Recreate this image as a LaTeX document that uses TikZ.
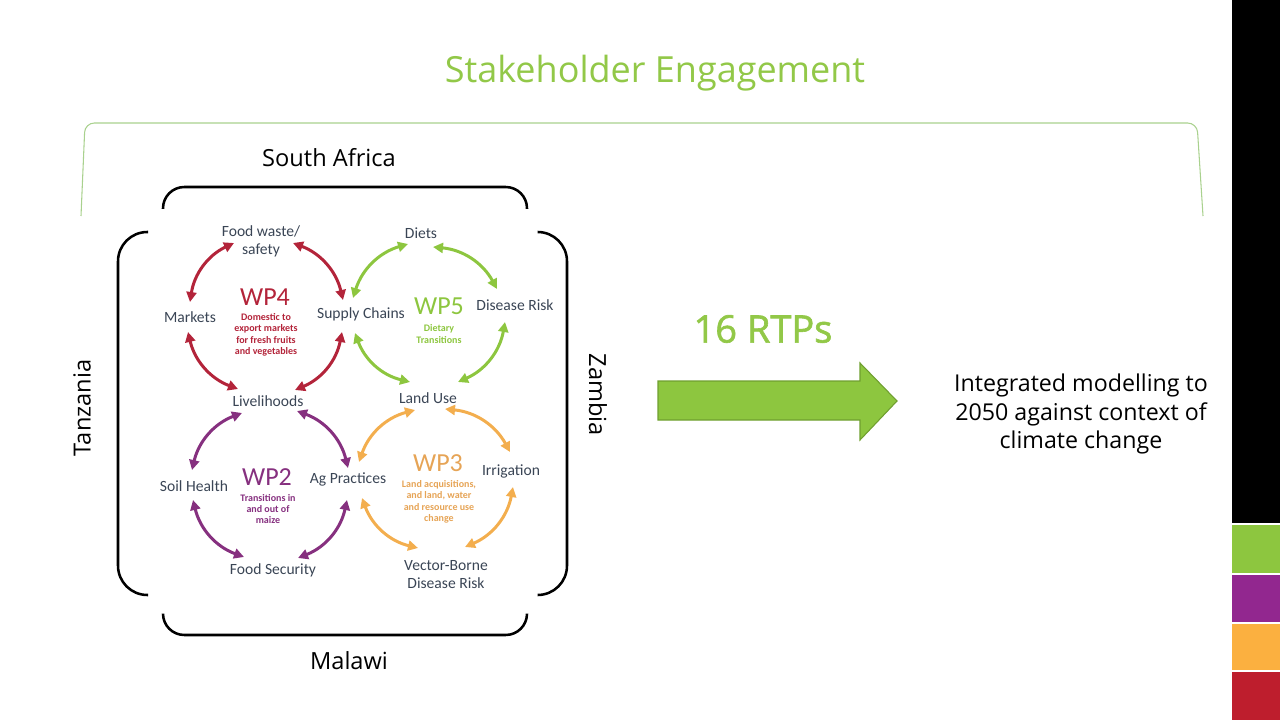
\documentclass[tikz,border=0pt]{standalone}
\usepackage{fontspec}
\setmainfont{Carlito}
\newfontfamily\seg{Open Sans}
\newfontfamily\segb[FakeBold=1.6]{Open Sans}
\usetikzlibrary{arrows.meta}
\definecolor{wpred}{HTML}{B3243A}
\definecolor{wpgreen}{HTML}{8DC63F}
\definecolor{wppurple}{HTML}{86307F}
\definecolor{wporange}{HTML}{F3AE4E}
\definecolor{wporangetxt}{HTML}{E6A456}
\definecolor{labgray}{HTML}{3A4555}
\definecolor{barg}{HTML}{8DC63F}
\definecolor{barp}{HTML}{92278F}
\definecolor{baro}{HTML}{FBB040}
\definecolor{barr}{HTML}{BE1E2D}
\definecolor{bracegreen}{HTML}{A9D18E}
\definecolor{titlegreen}{HTML}{92C848}
\definecolor{arrowedge}{HTML}{6F9F2F}
\tikzset{
  lab/.style={text=labgray, font=\fontsize{11.7}{13.5}\selectfont, align=center, inner sep=0pt},
  wptitle/.style={font=\fontsize{19.5}{22}\selectfont, inner sep=0pt},
  wpsub/.style={font=\bfseries\fontsize{7.5}{8.6}\selectfont, align=center, inner sep=0pt},
  country/.style={font=\seg\fontsize{17.7}{20}\selectfont, inner sep=0pt},
  cyc/.style={line width=2.25pt, {Triangle[length=7.5pt,width=7.5pt]}-{Triangle[length=7.5pt,width=7.5pt]}, bend left=28},
  bracket/.style={line width=1.9pt, black, rounded corners=16pt},
}
\begin{document}
\begin{tikzpicture}[x=0.75pt,y=-0.75pt]
\useasboundingbox (0,0) rectangle (1280,720);

% right colour bar
\fill[black] (1232,0) rectangle (1280,523);
\fill[barg] (1232,525) rectangle (1280,573);
\fill[barp] (1232,575) rectangle (1280,622);
\fill[baro] (1232,624) rectangle (1280,670);
\fill[barr] (1232,672) rectangle (1280,720);

% title and brace
\node[font=\seg\fontsize{27}{30}\selectfont, text=titlegreen, inner sep=0pt] (title) at (655,73) {Stakeholder Engagement};
\draw[bracegreen, line width=0.8pt, rounded corners=7pt] (81,216) -- (85,123) -- (1197,123) -- (1203,216);

% country labels
\node[country] (sa) at (329,158) {South Africa};
\node[country] (mw) at (349,661) {Malawi};
\node[country, rotate=90] (tz) at (82,408) {Tanzania};
\node[country, rotate=-90] (zm) at (598,395) {Zambia};

% black brackets
\draw[bracket] (163,209) -- (163,187) -- (527,187) -- (527,209);
\draw[bracket] (163,614) -- (163,635) -- (527,635) -- (527,614);
\draw[bracket, rounded corners=22pt] (148,232) -- (118,232) -- (118,595) -- (148,595);
\draw[bracket, rounded corners=22pt] (538,232) -- (567,232) -- (567,595) -- (538,595);

% labels
\node[lab] (food) at (261,241) {Food waste/\\safety};
\node[lab] (markets) at (190,317) {Markets};
\node[lab] (supply) at (361,314) {Supply Chains};
\node[lab] (liveli) at (268,401) {Livelihoods};
\node[lab] (diets) at (421,233) {Diets};
\node[lab] (disease) at (515,305) {Disease Risk};
\node[lab] (landuse) at (428,398) {Land Use};
\node[lab] (soil) at (194,486) {Soil Health};
\node[lab] (agp) at (348,479) {Ag Practices};
\node[lab] (foodsec) at (273,570) {Food Security};
\node[lab] (irrig) at (511,471) {Irrigation};
\node[lab] (vbdr) at (446,575) {Vector-Borne\\Disease Risk};

% WP titles
\node[wptitle, text=wpred] (wp4) at (265,297) {WP4};
\node[wpsub, text=wpred] (wp4s) at (266,335) {Domestic to\\export markets\\for fresh fruits\\and vegetables};
\node[wptitle, text=wpgreen] (wp5) at (439,306) {WP5};
\node[wpsub, text=wpgreen] (wp5s) at (439,334) {Dietary\\Transitions};
\node[wptitle, text=wppurple] (wp2) at (267,477) {WP2};
\node[wpsub, text=wppurple] (wp2s) at (268,509) {Transitions in\\and out of\\maize};
\node[wptitle, text=wporangetxt] (wp3) at (438,463) {WP3};
\node[wpsub, text=wporangetxt] (wp3s) at (439,502) {Land acquisitions,\\and land, water\\and resource use\\change};

% arc end points
\coordinate (a1) at (190,302); \coordinate (a2) at (234,243);
\coordinate (a3) at (293,243); \coordinate (a4) at (343,300);
\coordinate (a5) at (342,332); \coordinate (a6) at (295,390);
\coordinate (a7) at (238,389); \coordinate (a8) at (188,332);

\coordinate (b1) at (353,298); \coordinate (b2) at (408,244);
\coordinate (b3) at (433,247); \coordinate (b4) at (497,289);
\coordinate (b5) at (505,322); \coordinate (b6) at (458,382);
\coordinate (b7) at (410,382); \coordinate (b8) at (355,333);

\coordinate (c1) at (192,470); \coordinate (c2) at (242,413);
\coordinate (c3) at (297,411); \coordinate (c4) at (348,468);
\coordinate (c5) at (347,500); \coordinate (c6) at (298,558);
\coordinate (c7) at (244,557); \coordinate (c8) at (193,500);

\coordinate (d1) at (359,462); \coordinate (d2) at (415,410);
\coordinate (d3) at (445,409); \coordinate (d4) at (510,452);
\coordinate (d5) at (513,487); \coordinate (d6) at (465,547);
\coordinate (d7) at (418,548); \coordinate (d8) at (362,498);

\foreach \p/\q in {a1/a2,a3/a4,a5/a6,a7/a8} \draw[cyc, wpred] (\p) to (\q);
\foreach \p/\q in {b1/b2,b3/b4,b5/b6,b7/b8} \draw[cyc, wpgreen] (\p) to (\q);
\foreach \p/\q in {c1/c2,c3/c4,c5/c6,c7/c8} \draw[cyc, wppurple] (\p) to (\q);
\foreach \p/\q in {d1/d2,d3/d4,d5/d6,d7/d8} \draw[cyc, wporange] (\p) to (\q);

% big arrow
\node[font=\segb\fontsize{28.5}{32}\selectfont, text=titlegreen, inner sep=0pt] (rtp) at (763,329) {16 RTPs};
\draw[fill=barg, draw=arrowedge, line width=0.8pt] (658,381) -- (860,381) -- (860,363) -- (897,401) -- (860,440) -- (860,420) -- (658,420) -- cycle;

\node[font=\seg\fontsize{17.4}{21.4}\selectfont, align=center, inner sep=0pt] (integ) at (1081,414) {Integrated modelling to\\2050 against context of\\climate change};
\end{tikzpicture}
\end{document}
